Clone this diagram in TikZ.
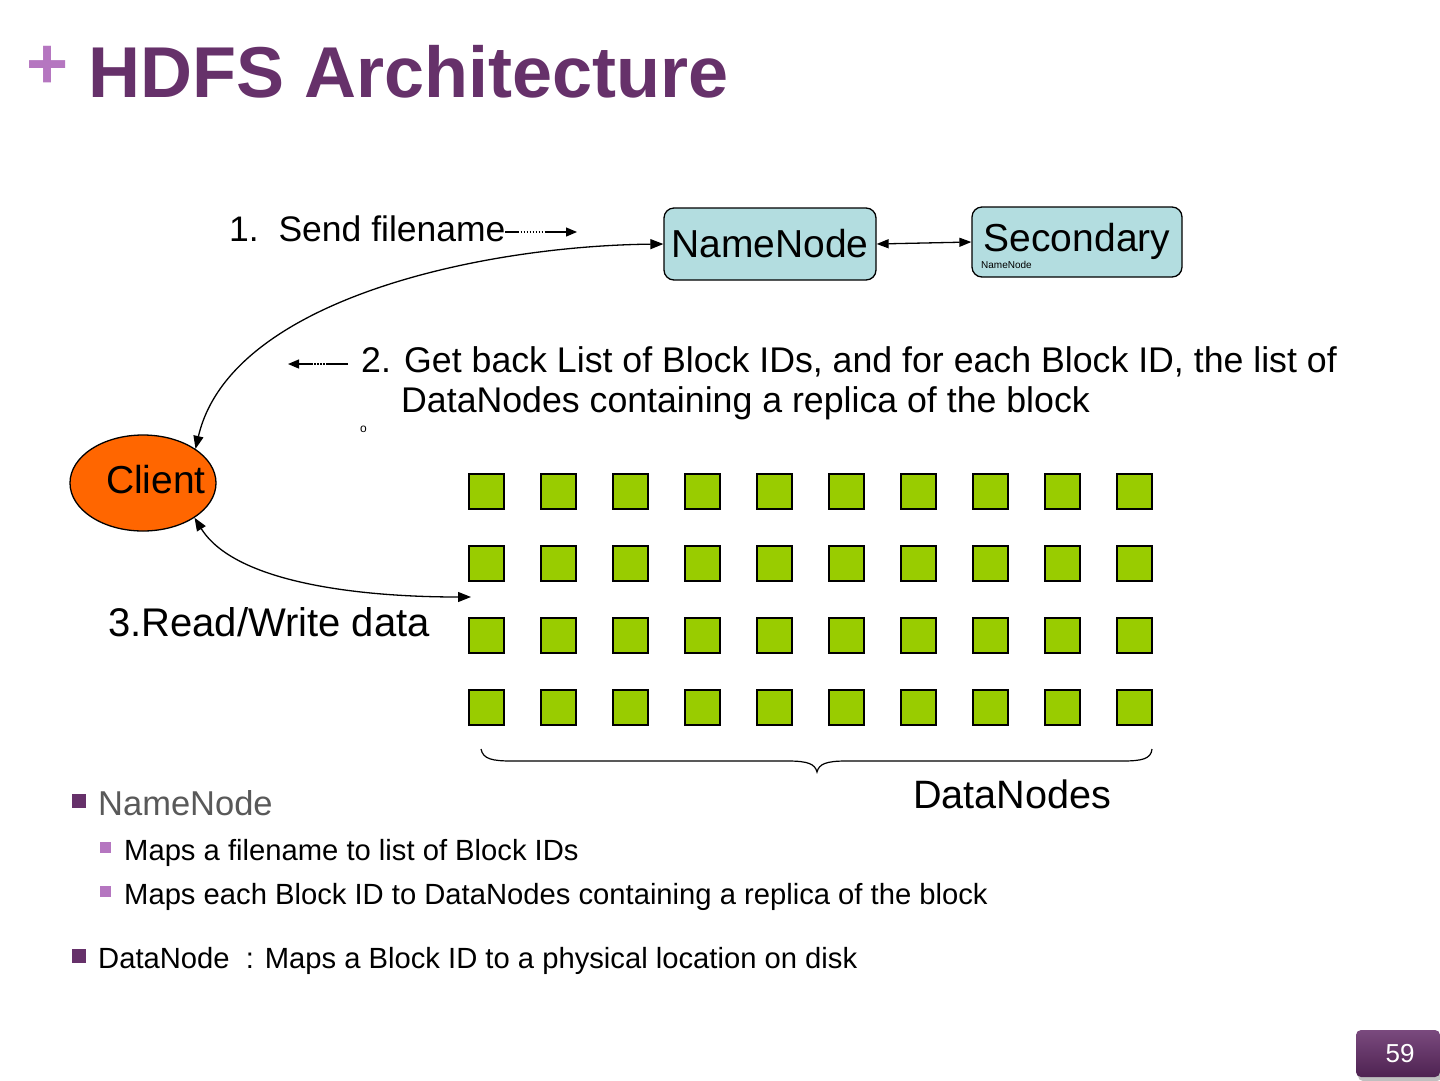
\documentclass[tikz,border=0pt]{standalone}
\usepackage{fontspec}
\setmainfont{Liberation Sans}
\usetikzlibrary{arrows.meta,shapes.geometric}
\definecolor{titlepurple}{HTML}{66316A}
\definecolor{pluspurple}{HTML}{B576C0}
\definecolor{nodeblue}{HTML}{B3DDE0}
\definecolor{clientorange}{HTML}{FF6600}
\definecolor{dngreen}{HTML}{99CC00}
\definecolor{bulletgray}{HTML}{595959}
\definecolor{pagetop}{HTML}{7A4A7E}
\definecolor{pagebot}{HTML}{4E2251}
\begin{document}
\begin{tikzpicture}[x=1pt,y=-1pt,
  txt/.style={inner sep=0pt, anchor=base west},
  fs/.style={font=\fontsize{#1}{#1}\selectfont},
  conn/.style={line width=1.3pt},
  twoway/.style={arrows={Triangle[length=13pt,width=10pt]-Triangle[length=13pt,width=10pt]}},
  rbox/.style={draw=black, line width=1.3pt, fill=nodeblue, rounded corners=10pt, inner sep=0pt},
  dnsq/.style={draw=black, line width=2pt, fill=dngreen, minimum size=35pt, inner sep=0pt},
  bigbullet/.style={fill=titlepurple, minimum size=14pt, inner sep=0pt},
  subbullet/.style={fill=pluspurple, minimum size=11pt, inner sep=0pt},
  dotdash/.style={dash pattern=on 14pt off 1.5pt on 1.5pt off 1.5pt on 1.5pt off 1.5pt on 1.5pt off 1.5pt on 1.5pt off 1.5pt on 1.5pt off 1.5pt on 1.5pt off 1.5pt on 1.5pt off 1.5pt on 1.5pt off 1.5pt on 40pt}
]
\useasboundingbox (0,0) rectangle (1440,1080);
\fill[white] (0,0) rectangle (1440,1080);

% title
\node[txt, font=\bfseries\fontsize{72}{72}\selectfont, text=pluspurple] (plus) at (26,88) {+};
\node[txt, font=\bfseries\fontsize{72}{72}\selectfont, text=titlepurple] (title) at (88,97) {HDFS Architecture};

% NameNode and Secondary
\node[rbox, minimum width=212pt, minimum height=72pt, fs=39] (nn) at (770,244) {NameNode};
\node[rbox, minimum width=210pt, minimum height=70pt] (sec) at (1077,242) {};
\node[inner sep=0pt, anchor=base, fs=39] (sectext) at (1077,251) {Secondary};
\node[txt, fs=10] (secsub) at (981,268) {NameNode};
\draw[conn, arrows={Triangle[length=12pt,width=9pt]-Triangle[length=12pt,width=9pt]}] (nn.east) -- (sec.west);

% step 1
\node[txt, fs=35.5] (s1) at (229,241) {1.\ \ Send filename};
\coordinate (s1a) at (505,232);
\coordinate (s1b) at (577,232);
\draw[line width=1.2pt, dotdash, -{Triangle[length=11pt,width=9pt]}] (s1a) -- (s1b);

% step 2
\node[txt, fs=35.7] (s2a) at (361,372) {2. Get back List of Block IDs, and for each Block ID, the list of};
\node[txt, fs=35.7] (s2b) at (401,412) {DataNodes containing a replica of the block};
\node[txt, fs=12] (odot) at (360,432) {o};
\coordinate (s2s) at (348,364);
\coordinate (s2e) at (288,364);
\draw[line width=1.2pt, dash pattern=on 22pt off 1.5pt on 1.5pt off 1.5pt on 1.5pt off 1.5pt on 1.5pt off 1.5pt on 1.5pt off 1.5pt on 30pt, -{Triangle[length=11pt,width=9pt]}] (s2s) -- (s2e);

% client
\node[ellipse, draw=black, line width=1.3pt, fill=clientorange, minimum width=146pt, minimum height=96pt, inner sep=0pt] (client) at (143,483) {};
\node[inner sep=0pt, anchor=base, fs=39] (clienttext) at (156,493) {Client};

\draw[conn, twoway] (nn.west) .. controls (480,246) and (230,300) .. (client.33);

% data nodes
\foreach \r in {0,...,3}{
  \foreach \c in {0,...,9}{
    \node[dnsq] (dn-\r-\c) at (486+72*\c, 491+72*\r) {};
  }
}
\coordinate (rw) at (471,597);
\draw[conn, twoway] (client.-34) .. controls (235,583) and (360,597) .. (rw);
\node[txt, fs=40] (s3) at (108,636) {3.Read/Write data};

% brace
\draw[line width=1.2pt] (481,749) .. controls (483,759) and (492,761) .. (512,761) -- (788,761) .. controls (808,761) and (815,764) .. (817,772) .. controls (819,764) and (826,761) .. (846,761) -- (1122,761) .. controls (1142,761) and (1151,759) .. (1152,749);
\node[txt, fs=39.6] (dnl) at (913,808) {DataNodes};

% bullets
\node[bigbullet] (b1) at (79,801) {};
\node[txt, fs=34.5, text=bulletgray] (t1) at (98,815) {NameNode};
\node[subbullet] (b11) at (105,847) {};
\node[txt, fs=29.2] (t11) at (124,860) {Maps a filename to list of Block IDs};
\node[subbullet] (b12) at (105,891) {};
\node[txt, fs=29.2] (t12) at (124,904) {Maps each Block ID to DataNodes containing a replica of the block};
\node[bigbullet] (b2) at (79,956) {};
\node[txt, fs=29.2] (t2) at (98,968) {DataNode\ \ : Maps a Block ID to a physical location on disk};

% page number
\fill[black!25, rounded corners=5pt] (1358,1033) rectangle (1442,1081);
\shade[top color=pagetop, bottom color=pagebot, rounded corners=5pt] (1356,1030) rectangle (1440,1077);
\node[inner sep=0pt, fs=26, text=white] (pg) at (1400,1054) {59};
\end{tikzpicture}
\end{document}
